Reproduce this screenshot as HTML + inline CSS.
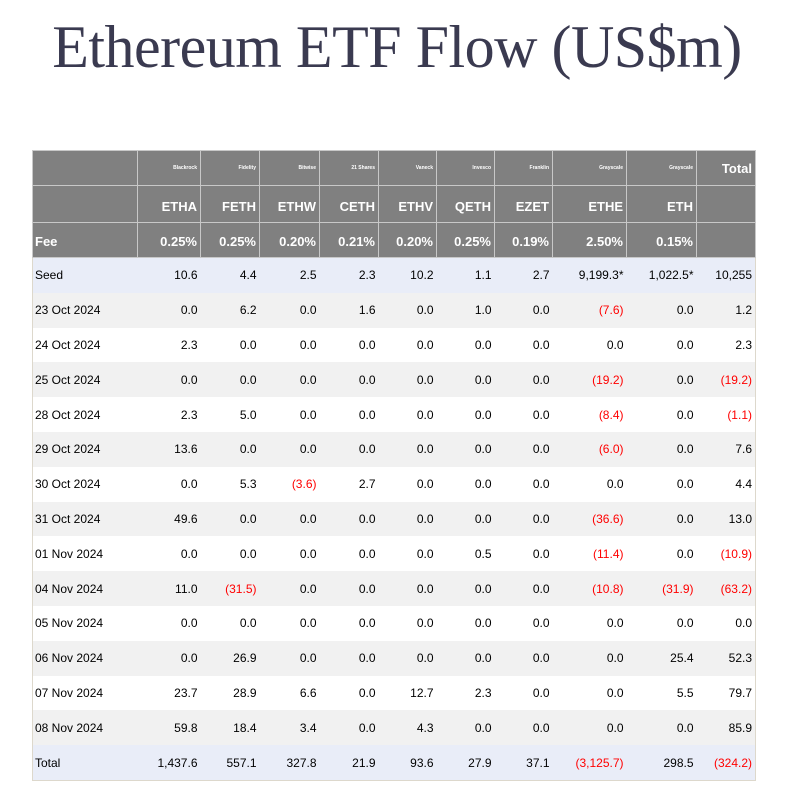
<!DOCTYPE html>
<html><head><meta charset="utf-8">
<style>
html,body{margin:0;padding:0;background:#fff;width:786px;height:789px;overflow:hidden}
h1{position:absolute;left:4px;top:13px;width:786px;margin:0;text-align:center;font:normal 60px "Liberation Serif",serif;color:#3a3a50;letter-spacing:-0.5px}
table{position:absolute;left:32px;top:150px;border-collapse:collapse;table-layout:fixed;font-family:"Liberation Sans",sans-serif;font-size:12px;color:#000;border-left:1px solid #ddd8cc;border-right:1px solid #ddd8cc;border-bottom:1px solid #ddd8cc}
td{padding:0 3px 0 2px;text-align:right;white-space:nowrap;overflow:hidden}
td:first-child{text-align:left}
thead td{background:#808080;color:#fff;font-weight:bold;border:1px solid #c8c8c8}
tr.h1 td{height:34px;font-size:5px;vertical-align:middle}
tr.h1 td.tot{font-size:13px}
tr.h2 td{height:32px;font-size:13px;padding-top:4px}
tr.h3 td{height:32px;font-size:13px;padding-top:2px}
tbody td{height:34.8px;padding-top:0}
tbody tr:nth-child(odd) td{background:#fff}
tbody tr:nth-child(even) td{background:#f1f1f1}
tbody tr.seed td,tbody tr.total td{background:#e9edf8}
.n{color:#f00}
</style></head><body>
<h1>Ethereum ETF Flow (US$m)</h1>
<table>
<colgroup><col style="width:105px"><col style="width:63px"><col style="width:59px"><col style="width:60px"><col style="width:59px"><col style="width:58px"><col style="width:58px"><col style="width:58px"><col style="width:74px"><col style="width:70px"><col style="width:59px"></colgroup>
<thead>
<tr class="h1"><td></td><td>Blackrock</td><td>Fidelity</td><td>Bitwise</td><td>21 Shares</td><td>Vaneck</td><td>Invesco</td><td>Franklin</td><td>Grayscale</td><td>Grayscale</td><td class="tot">Total</td></tr>
<tr class="h2"><td></td><td>ETHA</td><td>FETH</td><td>ETHW</td><td>CETH</td><td>ETHV</td><td>QETH</td><td>EZET</td><td>ETHE</td><td>ETH</td><td></td></tr>
<tr class="h3"><td>Fee</td><td>0.25%</td><td>0.25%</td><td>0.20%</td><td>0.21%</td><td>0.20%</td><td>0.25%</td><td>0.19%</td><td>2.50%</td><td>0.15%</td><td></td></tr>
</thead>
<tbody id="tb"></tbody>
</table>
<script>
const rowLabels=["Seed","23 Oct 2024","24 Oct 2024","25 Oct 2024","28 Oct 2024","29 Oct 2024","30 Oct 2024","31 Oct 2024","01 Nov 2024","04 Nov 2024","05 Nov 2024","06 Nov 2024","07 Nov 2024","08 Nov 2024","Total"];
const rowValues=[
["10.6","4.4","2.5","2.3","10.2","1.1","2.7","9,199.3*","1,022.5*","10,255"],
["0.0","6.2","0.0","1.6","0.0","1.0","0.0","(7.6)","0.0","1.2"],
["2.3","0.0","0.0","0.0","0.0","0.0","0.0","0.0","0.0","2.3"],
["0.0","0.0","0.0","0.0","0.0","0.0","0.0","(19.2)","0.0","(19.2)"],
["2.3","5.0","0.0","0.0","0.0","0.0","0.0","(8.4)","0.0","(1.1)"],
["13.6","0.0","0.0","0.0","0.0","0.0","0.0","(6.0)","0.0","7.6"],
["0.0","5.3","(3.6)","2.7","0.0","0.0","0.0","0.0","0.0","4.4"],
["49.6","0.0","0.0","0.0","0.0","0.0","0.0","(36.6)","0.0","13.0"],
["0.0","0.0","0.0","0.0","0.0","0.5","0.0","(11.4)","0.0","(10.9)"],
["11.0","(31.5)","0.0","0.0","0.0","0.0","0.0","(10.8)","(31.9)","(63.2)"],
["0.0","0.0","0.0","0.0","0.0","0.0","0.0","0.0","0.0","0.0"],
["0.0","26.9","0.0","0.0","0.0","0.0","0.0","0.0","25.4","52.3"],
["23.7","28.9","6.6","0.0","12.7","2.3","0.0","0.0","5.5","79.7"],
["59.8","18.4","3.4","0.0","4.3","0.0","0.0","0.0","0.0","85.9"],
["1,437.6","557.1","327.8","21.9","93.6","27.9","37.1","(3,125.7)","298.5","(324.2)"]
];
const tb=document.getElementById('tb');
rowLabels.forEach((lab,i)=>{
  const tr=document.createElement('tr');
  
  
  if(i===0)tr.className='seed';
  if(i===rowLabels.length-1)tr.className='total';
  const td0=document.createElement('td');td0.textContent=lab;tr.appendChild(td0);
  rowValues[i].forEach(v=>{
    const td=document.createElement('td');
    td.textContent=v;
    if(v.startsWith('('))td.className='n';
    tr.appendChild(td);
  });
  tb.appendChild(tr);
});
</script>
</body></html>
